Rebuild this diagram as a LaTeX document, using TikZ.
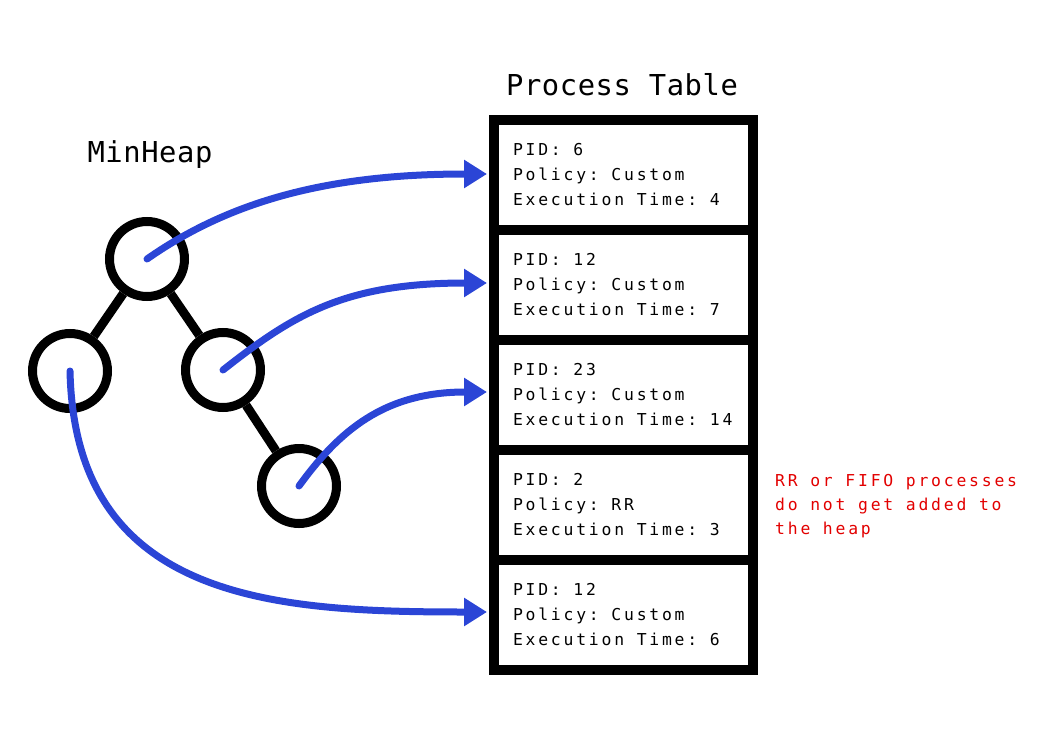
\documentclass[tikz,border=0pt]{standalone}
\usepackage{fontspec}
\usepackage{tikz}
\usetikzlibrary{positioning}
\usetikzlibrary{arrows.meta}
\newfontfamily\tabfont[LetterSpace=17]{DejaVu Sans Mono}
\newfontfamily\headfont[LetterSpace=2]{DejaVu Sans Mono}
\newcommand\tabsize[1]{\fontsize{16.4}{#1}\selectfont}
\definecolor{ptrblue}{RGB}{43,69,214}
\definecolor{notered}{RGB}{226,0,0}
\tikzset{heapnode/.style={circle,draw,line width=9pt,minimum size=75pt,inner sep=0pt},
 heapedge/.style={line width=9pt},
 monospace/.style={execute at begin node={\spaceskip=12.6pt\xspaceskip=12.6pt\relax}},
 cell/.style={draw,line width=10pt,minimum width=259pt,minimum height=110pt,outer sep=0pt,
  inner xsep=19pt,text width=221pt,align=left,font=\tabfont\tabsize{25},monospace},
 ptr/.style={ptrblue,line width=7pt,line cap=round,-{Triangle[length=23pt,width=27pt]},shorten >=7pt},
 title/.style={font=\headfont\fontsize{28.8}{30}\selectfont},
 note/.style={notered,inner sep=0pt,align=left,font=\tabfont\tabsize{24},monospace},
 }

\begin{document}
\begin{tikzpicture}[x=1pt,y=-1pt]
        \useasboundingbox (0,0) rectangle (1050,750);
        \node[title] (htitle) at (150,155) {MinHeap};
        \node[title] (ptitle) at (622,85) {Process Table};

        \node[cell] (p1) at (623.5,175) {PID: 6\\Policy: Custom\\Execution Time:~4};
        \node[cell, below=0pt of p1] (p2) {PID: 12\\Policy: Custom\\Execution Time:~7};
        \node[cell, below=0pt of p2] (p3) {PID: 23\\Policy: Custom\\Execution Time:~14};
        \node[cell, below=0pt of p3] (p4) {PID: 2\\Policy: RR\\Execution Time:~3};
        \node[cell, below=0pt of p4] (p5) {PID: 12\\Policy: Custom\\Execution Time:~6};

        \node[note, anchor=west] (rrnote) at (775,506) {RR or FIFO processes\\do not get added to\\the heap};

        \node[heapnode] (n1) at (147,259) {};
        \node[heapnode] (n2) at (70,371) {};
        \node[heapnode] (n3) at (223,370) {};
        \node[heapnode] (n4) at (299,486) {};
        \draw[heapedge] (n1) -- (n2);
        \draw[heapedge] (n1) -- (n3);
        \draw[heapedge] (n3) -- (n4);

        \draw[ptr] (n1.center) .. controls +(80,-56) and +(-170,0) .. ([yshift=1pt]p1.west);
        \draw[ptr] (n3.center) .. controls +(70,-55) and +(-150,0) .. ([yshift=2pt]p2.west);
        \draw[ptr] (n4.center) .. controls +(40,-55) and +(-110,0) .. ([yshift=3pt]p3.west);
        \draw[ptr] (n2.center) .. controls +(5,230) and +(-220,0) .. ([yshift=3pt]p5.west);
    \end{tikzpicture}
\end{document}
